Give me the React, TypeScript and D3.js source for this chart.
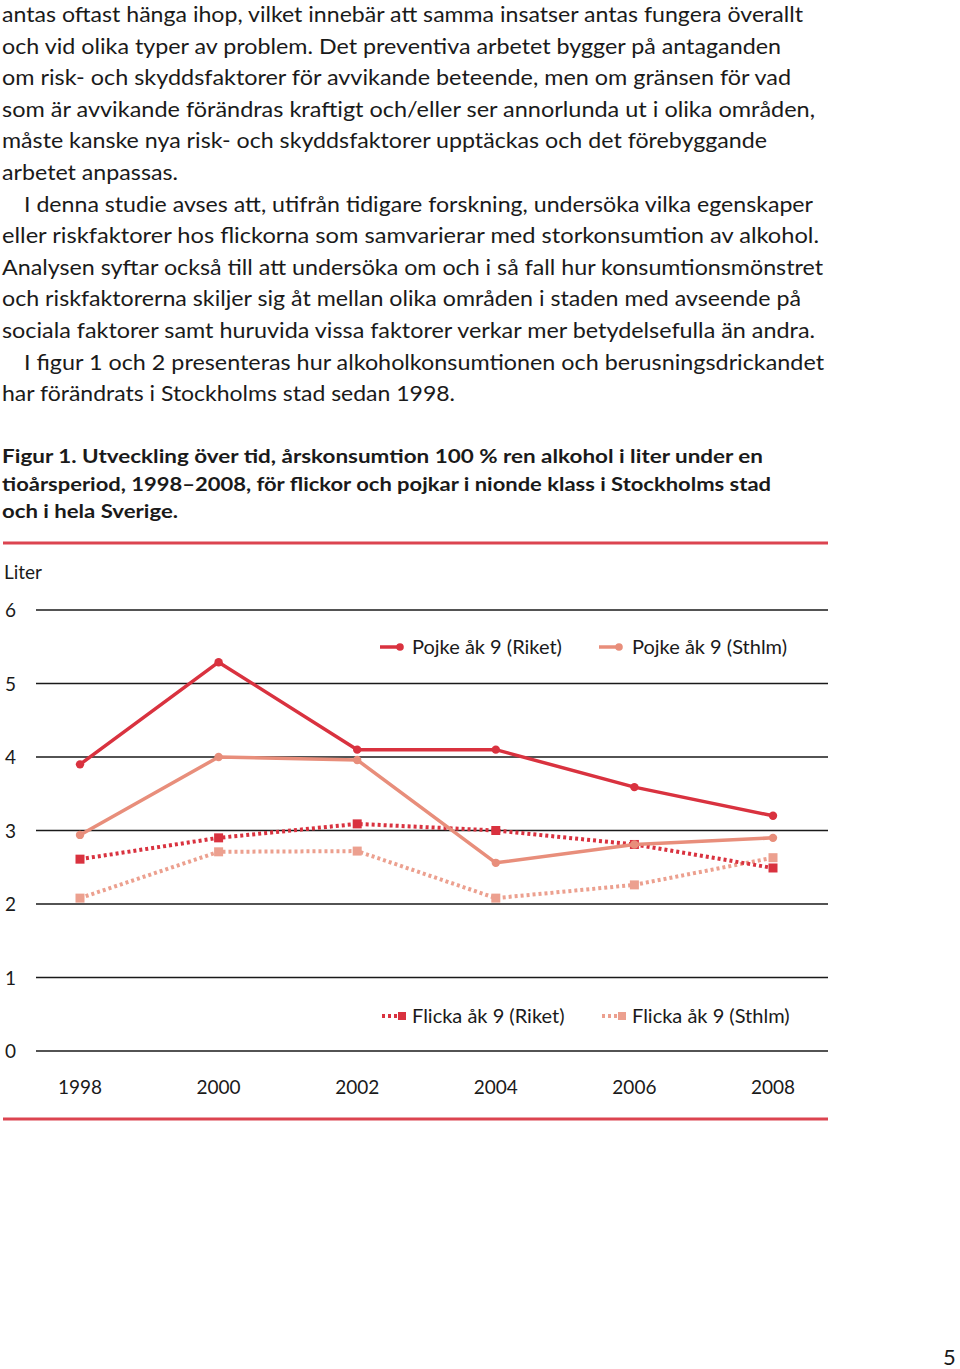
import React from "react";
import * as d3 from "d3";

const years = [1998, 2000, 2002, 2004, 2006, 2008];
const yTicks = [0, 1, 2, 3, 4, 5, 6];
const pojkeRiket = [3.9, 5.29, 4.1, 4.1, 3.59, 3.2];
const pojkeSthlm = [2.94, 4.0, 3.96, 2.56, 2.81, 2.9];
const flickaRiket = [2.61, 2.9, 3.09, 3.0, 2.81, 2.49];
const flickaSthlm = [2.08, 2.71, 2.72, 2.08, 2.26, 2.63];

const bodyLines = [
  { t: "antas oftast hänga ihop, vilket innebär att samma insatser antas fungera överallt", x: 2, w: 801 },
  { t: "och vid olika typer av problem. Det preventiva arbetet bygger på antaganden", x: 2, w: 779 },
  { t: "om risk- och skyddsfaktorer för avvikande beteende, men om gränsen för vad", x: 2, w: 789 },
  { t: "som är avvikande förändras kraftigt och/eller ser annorlunda ut i olika områden,", x: 2, w: 813 },
  { t: "måste kanske nya risk- och skyddsfaktorer upptäckas och det förebyggande", x: 2, w: 765 },
  { t: "arbetet anpassas.", x: 2, w: 176 },
  { t: "I denna studie avses att, utifrån tidigare forskning, undersöka vilka egenskaper", x: 24, w: 789 },
  { t: "eller riskfaktorer hos flickorna som samvarierar med storkonsumtion av alkohol.", x: 2, w: 817 },
  { t: "Analysen syftar också till att undersöka om och i så fall hur konsumtionsmönstret", x: 2, w: 821 },
  { t: "och riskfaktorerna skiljer sig åt mellan olika områden i staden med avseende på", x: 2, w: 799 },
  { t: "sociala faktorer samt huruvida vissa faktorer verkar mer betydelsefulla än andra.", x: 2, w: 813 },
  { t: "I figur 1 och 2 presenteras hur alkoholkonsumtionen och berusningsdrickandet", x: 24, w: 800 },
  { t: "har förändrats i Stockholms stad sedan 1998.", x: 2, w: 453 },
];

const captionLines = [
  { t: "Figur 1. Utveckling över tid, årskonsumtion 100 % ren alkohol i liter under en", w: 761 },
  { t: "tioårsperiod, 1998–2008, för flickor och pojkar i nionde klass i Stockholms stad", w: 769 },
  { t: "och i hela Sverige.", w: 176 },
];

const RIKET = "#d9323f";
const STHLM = "#e88e7b";
const FSTHLM = "#eca08f";
const RULE = "#dc4450";
const FONT = "Lato, 'Open Sans', sans-serif";

export default function App() {
  const x = d3.scaleLinear().domain([1998, 2008]).range([80, 773]);
  const y = d3.scaleLinear().domain([0, 6]).range([1051, 610]);
  const line = d3
    .line<number>()
    .x((_, i) => x(years[i]))
    .y((d) => y(d));

  const series = [
    { name: "Pojke åk 9 (Riket)", vals: pojkeRiket, color: RIKET, dotted: false },
    { name: "Pojke åk 9 (Sthlm)", vals: pojkeSthlm, color: STHLM, dotted: false },
    { name: "Flicka åk 9 (Riket)", vals: flickaRiket, color: RIKET, dotted: true },
    { name: "Flicka åk 9 (Sthlm)", vals: flickaSthlm, color: FSTHLM, dotted: true },
  ];
  const drawOrder = [3, 2, 1, 0];

  const legendPos = [
    { lx: 380, ly: 647, tx: 412 },
    { lx: 599, ly: 647, tx: 632 },
    { lx: 382, ly: 1016, tx: 412 },
    { lx: 602, ly: 1016, tx: 632 },
  ];

  return (
    <svg
      width={960}
      height={1369}
      style={{ position: "absolute", left: 0, top: 0, background: "#fff" }}
      fontFamily={FONT}
    >
      {bodyLines.map((l, i) => (
        <text
          key={"b" + i}
          x={l.x}
          y={22 + i * 31.6}
          fontSize={21.5}
          fill="#1a1a1a"
          textLength={l.w}
          lengthAdjust="spacingAndGlyphs"
        >
          {l.t}
        </text>
      ))}
      {captionLines.map((l, i) => (
        <text
          key={"c" + i}
          x={2}
          y={463 + i * 27.5}
          fontSize={19}
          fontWeight="bold"
          fill="#1a1a1a"
          textLength={l.w}
          lengthAdjust="spacingAndGlyphs"
        >
          {l.t}
        </text>
      ))}

      <line x1={3} x2={828} y1={543} y2={543} stroke={RULE} strokeWidth={3} />
      <line x1={3} x2={828} y1={1119} y2={1119} stroke={RULE} strokeWidth={3} />

      <text x={4} y={579} fontSize={19} fill="#1a1a1a">Liter</text>

      {yTicks.map((t) => (
        <g key={"y" + t}>
          <line x1={36} x2={828} y1={y(t)} y2={y(t)} stroke="#1a1a1a" strokeWidth={1.3} />
          <text x={5} y={y(t) + 7} fontSize={19} fill="#1a1a1a">{t}</text>
        </g>
      ))}
      {years.map((yr) => (
        <text key={"x" + yr} x={x(yr)} y={1094} fontSize={19} textAnchor="middle" fill="#1a1a1a">
          {yr}
        </text>
      ))}

      {drawOrder.map((si) => {
        const s = series[si];
        return (
          <g key={"s" + si}>
            <path
              d={line(s.vals) || ""}
              fill="none"
              stroke={s.color}
              strokeWidth={s.dotted ? 4 : 3.5}
              strokeDasharray={s.dotted ? "3 3" : undefined}
              strokeLinejoin="round"
            />
            {s.vals.map((v, i) =>
              s.dotted ? (
                <rect key={i} x={x(years[i]) - 4.5} y={y(v) - 4.5} width={9} height={9} fill={s.color} />
              ) : (
                <circle key={i} cx={x(years[i])} cy={y(v)} r={4.2} fill={s.color} />
              )
            )}
          </g>
        );
      })}

      {series.map((s, i) => {
        const p = legendPos[i];
        return (
          <g key={"l" + i}>
            <line
              x1={p.lx}
              x2={p.lx + 20}
              y1={p.ly}
              y2={p.ly}
              stroke={s.color}
              strokeWidth={s.dotted ? 4 : 3.5}
              strokeDasharray={s.dotted ? "3 3" : undefined}
            />
            {s.dotted ? (
              <rect x={p.lx + 16} y={p.ly - 4} width={8} height={8} fill={s.color} />
            ) : (
              <circle cx={p.lx + 20} cy={p.ly} r={3.8} fill={s.color} />
            )}
            <text x={p.tx} y={p.ly + 7} fontSize={20} fill="#1a1a1a">{s.name}</text>
          </g>
        );
      })}

      <text x={943} y={1365} fontSize={22} fill="#1a1a1a">5</text>
    </svg>
  );
}
